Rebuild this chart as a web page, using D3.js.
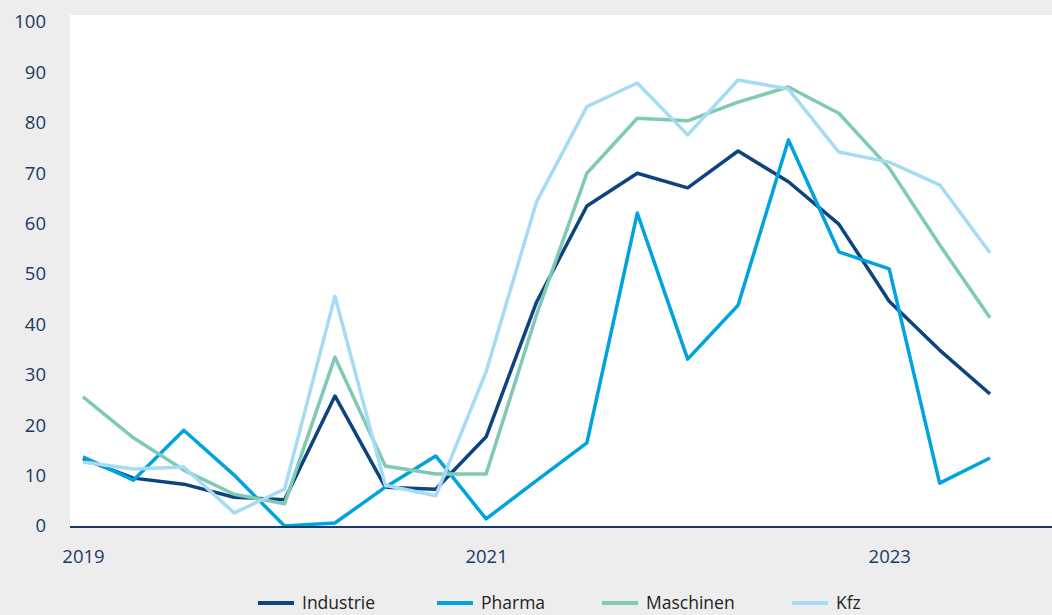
<!DOCTYPE html>
<html lang="de">
<head>
    <meta charset="UTF-8">
    <title>Industrie, Pharma, Maschinen, Kfz</title>
    <style>
        body, html {
            margin: 0;
            padding: 0;
            width: 100%;
            height: 100%;
            overflow: hidden;
            background: #ededed;
        }
        text {
            font-family: "Open Sans", "Noto Sans", sans-serif;
        }
        .line {
            fill: none;
            stroke-width: 3.5px;
            stroke-linejoin: round;
        }
    </style>
    <script src="https://d3js.org/d3.v7.min.js"></script>
</head>
<body>
    <div id="chart"></div>

    <script>
        const width = 1052;
        const height = 615;

        // quarters 2019 Q1 .. 2023 Q3
        const quarters = [
            "2019Q1", "2019Q2", "2019Q3", "2019Q4",
            "2020Q1", "2020Q2", "2020Q3", "2020Q4",
            "2021Q1", "2021Q2", "2021Q3", "2021Q4",
            "2022Q1", "2022Q2", "2022Q3", "2022Q4",
            "2023Q1", "2023Q2", "2023Q3"
        ];
        const yearLabels = { "2019Q1": "2019", "2021Q1": "2021", "2023Q1": "2023" };
        const yTicks = [0, 10, 20, 30, 40, 50, 60, 70, 80, 90, 100];

        const industrie = [13.3, 9.5, 8.3, 5.7, 5.2, 25.8, 7.7, 7.3, 17.7, 44.4, 63.5, 70.0, 67.1, 74.4, 68.3, 59.9, 44.6, 34.9, 26.2];
        const pharma    = [13.7, 9.1, 19.0, 10.1, 0.0, 0.6, 7.7, 13.9, 1.4, 9.0, 16.5, 62.1, 33.1, 43.8, 76.6, 54.4, 51.0, 8.5, 13.5];
        const maschinen = [25.6, 17.5, 11.1, 6.3, 4.4, 33.5, 11.9, 10.3, 10.3, 41.9, 70.0, 80.9, 80.4, 84.1, 87.1, 81.9, 71.0, 55.8, 41.3];
        const kfz       = [12.7, 11.3, 11.7, 2.6, 7.3, 45.6, 8.1, 6.0, 30.6, 64.3, 83.2, 87.9, 77.6, 88.5, 86.7, 74.2, 72.2, 67.7, 54.2];

        const series = [
            { name: "Industrie", values: industrie, color: "#0d4480" },
            { name: "Pharma", values: pharma, color: "#00a3de" },
            { name: "Maschinen", values: maschinen, color: "#7fc9b5" },
            { name: "Kfz", values: kfz, color: "#a6dbf6" }
        ];

        const plot = { left: 70, right: 1052, top: 15, bottom: 527 };

        const x = d3.scalePoint()
            .domain(quarters)
            .range([83, 990]);

        const y = d3.scaleLinear()
            .domain([0, 100])
            .range([526, 22]);

        const svg = d3.select("#chart")
            .append("svg")
            .attr("width", width)
            .attr("height", height);

        // white plot area
        svg.append("rect")
            .attr("x", plot.left)
            .attr("y", plot.top)
            .attr("width", plot.right - plot.left)
            .attr("height", plot.bottom - plot.top)
            .attr("fill", "#fff");

        // y axis labels
        const yAxis = d3.axisLeft(y)
            .tickValues(yTicks)
            .tickSize(0)
            .tickPadding(0);

        svg.append("g")
            .attr("transform", "translate(46,0)")
            .call(yAxis)
            .call(g => g.select(".domain").remove())
            .selectAll("text")
            .attr("fill", "#1b3a66")
            .style("font-size", "18.5px");

        // x axis labels
        const xAxis = d3.axisBottom(x)
            .tickValues(Object.keys(yearLabels))
            .tickFormat(d => yearLabels[d])
            .tickSize(0)
            .tickPadding(0);

        svg.append("g")
            .attr("transform", "translate(0,546)")
            .call(xAxis)
            .call(g => g.select(".domain").remove())
            .selectAll("text")
            .attr("fill", "#1b3a66")
            .attr("y", 4)
            .style("font-size", "18.5px");

        const line = d3.line()
            .x((d, i) => x(quarters[i]))
            .y(d => y(d));

        svg.selectAll(".line")
            .data(series)
            .enter().append("path")
            .attr("class", "line")
            .attr("d", d => line(d.values))
            .attr("stroke", d => d.color);

        // baseline
        svg.append("line")
            .attr("x1", plot.left)
            .attr("x2", plot.right)
            .attr("y1", y(0) + 1)
            .attr("y2", y(0) + 1)
            .attr("stroke", "#1b3a66")
            .attr("stroke-width", 2);

        // legend
        const legendX = [258, 437, 602, 792];
        const legend = svg.append("g")
            .selectAll("g")
            .data(series)
            .enter().append("g")
            .attr("transform", (d, i) => `translate(${legendX[i]},603)`);

        legend.append("line")
            .attr("x1", 0)
            .attr("x2", 36)
            .attr("stroke", d => d.color)
            .attr("stroke-width", 4);

        legend.append("text")
            .attr("x", 44)
            .attr("dy", "0.35em")
            .attr("fill", "#222")
            .style("font-size", "17.5px")
            .text(d => d.name);
    </script>
</body>
</html>
